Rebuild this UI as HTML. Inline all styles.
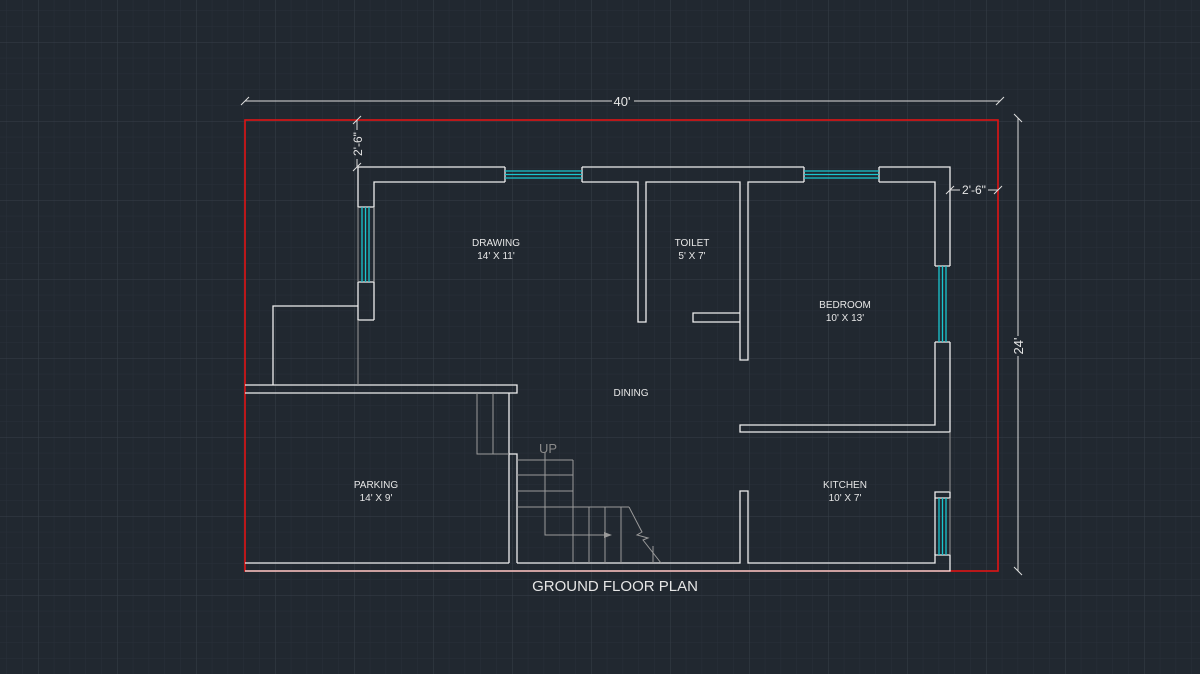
<!DOCTYPE html>
<html><head><meta charset="utf-8"><style>
html,body{margin:0;padding:0;background:#212830;}
svg{display:block}
text{font-family:"Liberation Sans",sans-serif;fill:#e6e6e6;text-anchor:middle}
</style></head><body>
<svg width="1200" height="674" viewBox="0 0 1200 674" xmlns="http://www.w3.org/2000/svg">
<defs>
<pattern id="minor" x="38" y="42" width="15.8" height="15.8" patternUnits="userSpaceOnUse">
<path d="M0 0H15.8M0 0V15.8" stroke="#29303a" stroke-width="1" fill="none"/>
</pattern>
<pattern id="major" x="38" y="42" width="79" height="79" patternUnits="userSpaceOnUse">
<path d="M0 0H79M0 0V79" stroke="#363e49" stroke-width="1" fill="none"/>
</pattern>
</defs>
<rect width="1200" height="674" fill="#212830"/>
<rect width="1200" height="674" fill="url(#minor)"/>
<rect width="1200" height="674" fill="url(#major)"/>

<!-- red plot boundary -->
<rect x="245" y="120" width="753" height="451" fill="none" stroke="#e01414" stroke-width="1.6"/>

<g stroke="#eeeeee" stroke-width="1.3" fill="none">
<path d="M358 167H505M582 167H804M879 167H950V266"/>
<path d="M374 320V182H505M582 182H638V322H646V182H740V360H748V182H804M879 182H935V266"/>
<path d="M505 167V182M582 167V182M804 167V182M879 167V182"/>
<path d="M358 167V207H374M358 282H374M358 282V320H374"/>
<path d="M740 313H693V322H740"/>
<path d="M935 266H950M935 342H950M950 342V432H740V425H935V342"/>
<path d="M273 385V306H358"/>
<path d="M245 385H517V393H245"/>
<path d="M509 393V563M509 454H517V563"/>
<path d="M245 563H509M517 563H740V491H748V563H935V555H950V571H245"/>
<path d="M935 492H950V498H935ZM935 498V555"/>
</g>
<g stroke="#9a9a9a" stroke-width="1" fill="none">
<path d="M358 320V385M950 432V492M358 207V282M374 207V282M950 498V555"/>
<path d="M477 393V454H509M493 393V454"/>
<path d="M517 460H573M517 475H573M517 491H573M517 507H629M573 460V563M589 507V563M605 507V563M621 507V563"/>
<path d="M629 507L642 532L637 535L648 538L643 540L661 563M653 546V563"/>
<path d="M545 452V535H610"/>
</g>
<path d="M612 535L604 532V538Z" fill="#9a9a9a"/>
<text x="548" y="453" style="fill:#8a8a8a;font-size:13px">UP</text>

<g stroke="#19c6cf" stroke-width="1.3">
<path d="M505 171H582M505 174.5H582M505 178H582"/>
<path d="M804 171H879M804 174.5H879M804 178H879"/>
<path d="M362 207V282M365.5 207V282M369 207V282"/>
<path d="M939 266V342M942.5 266V342M946 266V342"/>
<path d="M939 498V555M942.5 498V555M946 498V555"/>
</g>

<g stroke="#dddddd" stroke-width="1" fill="none">
<path d="M245 101H612M634 101H1000"/>
<path d="M241 105L249 97M996 105L1004 97"/>
<path d="M1018 118V336M1018 356V571"/>
<path d="M1014 114L1022 122M1014 567L1022 575"/>
<path d="M357 120V130M357 159V167M353 124L361 116M353 171L361 163"/>
<path d="M950 190H960M988 190H998M946 194L954 186M994 194L1002 186"/>
</g>
<text x="622" y="106" style="font-size:13px">40'</text>
<text x="0" y="0" transform="translate(1023,346) rotate(-90)" style="font-size:13px">24'</text>
<text x="0" y="0" transform="translate(362,144) rotate(-90)" style="font-size:12px">2'-6"</text>
<text x="974" y="194" style="font-size:12px">2'-6"</text>

<g style="font-size:10px">
<text x="496" y="246">DRAWING</text><text x="496" y="259">14' X 11'</text>
<text x="692" y="246">TOILET</text><text x="692" y="259">5' X 7'</text>
<text x="845" y="308">BEDROOM</text><text x="845" y="321">10' X 13'</text>
<text x="631" y="396">DINING</text>
<text x="376" y="488">PARKING</text><text x="376" y="501">14' X 9'</text>
<text x="845" y="488">KITCHEN</text><text x="845" y="501">10' X 7'</text>
</g>
<text x="615" y="591" style="font-size:15px">GROUND FLOOR PLAN</text>
</svg>
</body></html>
